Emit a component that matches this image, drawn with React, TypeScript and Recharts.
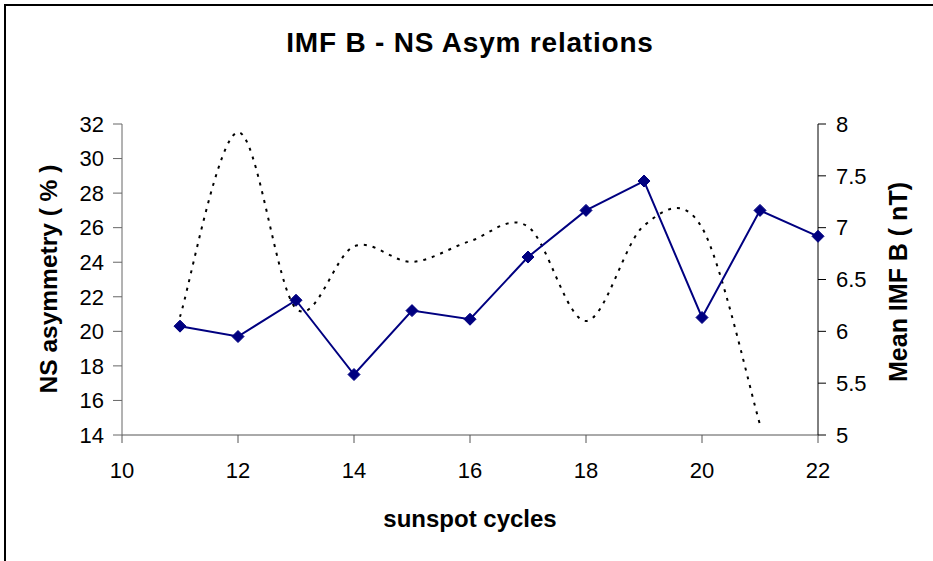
import { LineChart, Line, XAxis, YAxis } from "recharts";

// sunspot cycle numbers
const cycles = [11, 12, 13, 14, 15, 16, 17, 18, 19, 20, 21, 22];
// NS asymmetry (%) - left axis
const nsAsym = [20.3, 19.7, 21.8, 17.5, 21.2, 20.7, 24.3, 27.0, 28.7, 20.8, 27.0, 25.5];
// mean IMF B (nT) - right axis, no value for cycle 22
const imfB = [6.14, 7.92, 6.22, 6.82, 6.67, 6.87, 7.01, 6.1, 7.02, 7.0, 5.1, null];

const xTicks = [10, 12, 14, 16, 18, 20, 22];
const leftTicks = [14, 16, 18, 20, 22, 24, 26, 28, 30, 32];
const rightTicks = [5, 5.5, 6, 6.5, 7, 7.5, 8];

const data = cycles.map((c, i) => ({ cycle: c, ns: nsAsym[i], imf: imfB[i] }));

// excel-like smoothed line (catmull-rom bezier)
const excelSmooth = (ctx: any) => {
  let pts: number[][] = [];
  return {
    areaStart() {},
    areaEnd() {},
    lineStart() {
      pts = [];
    },
    point(x: number, y: number) {
      pts.push([+x, +y]);
    },
    lineEnd() {
      if (!pts.length) return;
      ctx.moveTo(pts[0][0], pts[0][1]);
      for (let i = 0; i < pts.length - 1; i++) {
        const p0 = pts[i - 1] || pts[i];
        const p1 = pts[i];
        const p2 = pts[i + 1];
        const p3 = pts[i + 2] || p2;
        ctx.bezierCurveTo(
          p1[0] + (p2[0] - p0[0]) / 6,
          p1[1] + (p2[1] - p0[1]) / 6,
          p2[0] - (p3[0] - p1[0]) / 6,
          p2[1] - (p3[1] - p1[1]) / 6,
          p2[0],
          p2[1]
        );
      }
    },
  };
};

const Diamond = (props: any) => {
  const { cx, cy } = props;
  if (cx == null || cy == null) return null;
  const r = 6;
  return (
    <path
      d={`M${cx},${cy - r}L${cx + r},${cy}L${cx},${cy + r}L${cx - r},${cy}Z`}
      fill="#000080"
      stroke="#000080"
    />
  );
};

const tickFont = { fontFamily: "Liberation Sans, Arial", fontSize: 22, fill: "#000" };
const boldText = {
  position: "absolute" as const,
  fontFamily: "Liberation Sans, Arial",
  fontWeight: "bold" as const,
  color: "#000",
  whiteSpace: "nowrap" as const,
};

export default function App() {
  return (
    <div
      style={{
        position: "absolute",
        left: 0,
        top: 0,
        width: 933,
        height: 561,
        background: "#fff",
        overflow: "hidden",
      }}
    >
      <div style={{ position: "absolute", left: 4, top: 4, right: 0, height: 0, borderTop: "2px solid #000" }} />
      <div style={{ position: "absolute", left: 4, top: 4, bottom: 0, width: 0, borderLeft: "2px solid #000" }} />

      <LineChart width={933} height={561} data={data} margin={{ top: 124, right: 0, bottom: 0, left: 0 }}>
        <XAxis
          dataKey="cycle"
          type="number"
          domain={[10, 22]}
          ticks={xTicks}
          height={126}
          tickSize={8}
          tickMargin={19}
          stroke="#555"
          tick={tickFont}
        />
        <YAxis
          yAxisId="left"
          domain={[14, 32]}
          ticks={leftTicks}
          width={122}
          tickSize={9}
          tickMargin={9}
          stroke="#666"
          tick={tickFont}
        />
        <YAxis
          yAxisId="right"
          orientation="right"
          domain={[5, 8]}
          ticks={rightTicks}
          width={115}
          tickSize={8}
          tickMargin={10}
          stroke="#000"
          tick={tickFont}
          allowDataOverflow
        />
        <Line
          yAxisId="right"
          dataKey="imf"
          type={excelSmooth as any}
          stroke="#000"
          strokeWidth={2}
          strokeDasharray="3 6"
          dot={false}
          connectNulls={false}
          isAnimationActive={false}
        />
        <Line
          yAxisId="left"
          dataKey="ns"
          type="linear"
          stroke="#000080"
          strokeWidth={2}
          dot={<Diamond />}
          isAnimationActive={false}
        />
      </LineChart>

      <div style={{ ...boldText, left: 470, top: 43, fontSize: 28, letterSpacing: 0.8, transform: "translate(-50%, -50%)" }}>
        IMF B - NS Asym relations
      </div>
      <div style={{ ...boldText, left: 470, top: 519, fontSize: 24, transform: "translate(-50%, -50%)" }}>
        sunspot cycles
      </div>
      <div style={{ ...boldText, left: 49, top: 279, fontSize: 24.5, transform: "translate(-50%, -50%) rotate(-90deg)" }}>
        NS asymmetry ( % )
      </div>
      <div style={{ ...boldText, left: 898, top: 282, fontSize: 25, transform: "translate(-50%, -50%) rotate(-90deg)" }}>
        Mean IMF B ( nT)
      </div>
    </div>
  );
}
